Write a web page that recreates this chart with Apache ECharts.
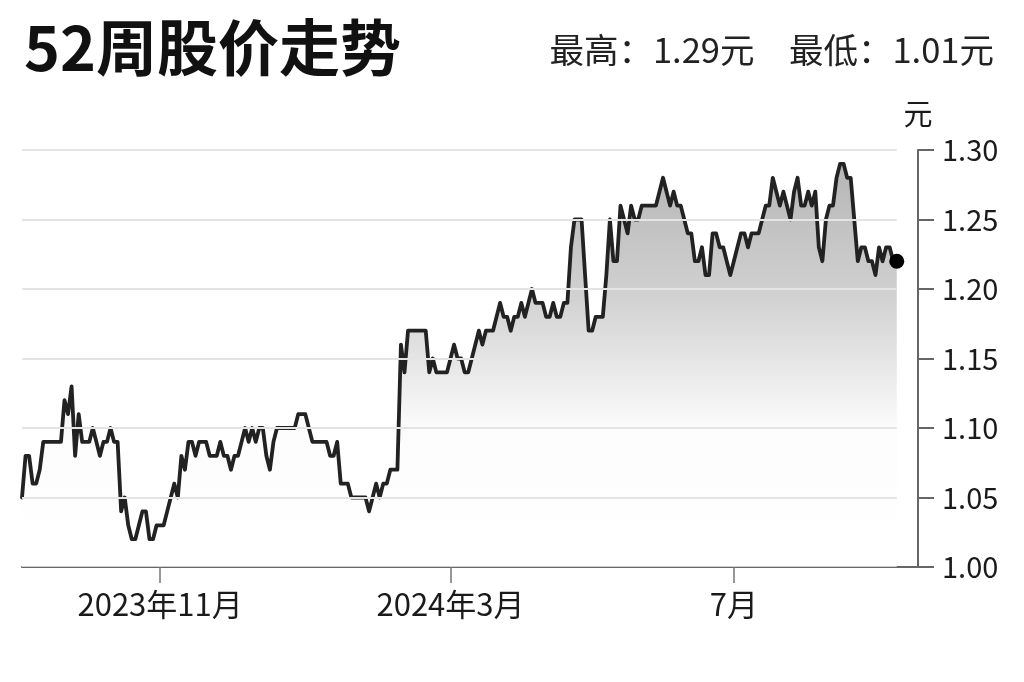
<!DOCTYPE html>
<html>
<head>
<meta charset="utf-8">
<title>52周股价走势</title>
<script src="https://cdn.jsdelivr.net/npm/echarts@6/dist/echarts.min.js"></script>
<style>
  html, body { margin: 0; padding: 0; background: #fff; }
  #main { width: 1024px; height: 682px; }
</style>
</head>
<body>
<div id="main"></div>
<script>
// trading days (HK), one price per day
var startDate = '2023-09-04';
var endDate = '2024-09-12';
var holidays = ['2023-09-08', '2023-10-02', '2023-10-23', '2023-12-25', '2023-12-26',
  '2024-01-01', '2024-02-12', '2024-02-13', '2024-03-29', '2024-04-01', '2024-04-04',
  '2024-05-01', '2024-05-15', '2024-06-10', '2024-07-01'];

var prices = [
  1.05, 1.08, 1.08, 1.06, 1.06, 1.07, 1.09, 1.09, 1.09, 1.09,
  1.09, 1.09, 1.12, 1.11, 1.13, 1.08, 1.11, 1.09, 1.09, 1.09,
  1.10, 1.09, 1.08, 1.09, 1.09, 1.10, 1.09, 1.09, 1.04, 1.05,
  1.03, 1.02, 1.02, 1.03, 1.04, 1.04, 1.02, 1.02, 1.03, 1.03,
  1.03, 1.04, 1.05, 1.06, 1.05, 1.08, 1.07, 1.09, 1.09, 1.08,
  1.09, 1.09, 1.09, 1.08, 1.08, 1.08, 1.09, 1.08, 1.08, 1.07,
  1.08, 1.08, 1.09, 1.10, 1.09, 1.10, 1.09, 1.10, 1.10, 1.08,
  1.07, 1.09, 1.10, 1.10, 1.10, 1.10, 1.10, 1.10, 1.11, 1.11,
  1.11, 1.10, 1.09, 1.09, 1.09, 1.09, 1.09, 1.08, 1.08, 1.09,
  1.06, 1.06, 1.06, 1.05, 1.05, 1.05, 1.05, 1.05, 1.04, 1.05,
  1.06, 1.05, 1.06, 1.06, 1.07, 1.07, 1.07, 1.16, 1.14, 1.17,
  1.17, 1.17, 1.17, 1.17, 1.17, 1.14, 1.15, 1.14, 1.14, 1.14,
  1.14, 1.15, 1.16, 1.15, 1.15, 1.14, 1.14, 1.15, 1.16, 1.17,
  1.16, 1.17, 1.17, 1.17, 1.18, 1.19, 1.18, 1.18, 1.17, 1.18,
  1.18, 1.19, 1.18, 1.19, 1.20, 1.19, 1.19, 1.19, 1.18, 1.18,
  1.19, 1.18, 1.18, 1.19, 1.19, 1.23, 1.25, 1.25, 1.25, 1.21,
  1.17, 1.17, 1.18, 1.18, 1.18, 1.21, 1.25, 1.22, 1.22, 1.26,
  1.25, 1.24, 1.26, 1.25, 1.25, 1.26, 1.26, 1.26, 1.26, 1.26,
  1.27, 1.28, 1.27, 1.26, 1.27, 1.26, 1.26, 1.25, 1.24, 1.24,
  1.22, 1.22, 1.23, 1.21, 1.21, 1.24, 1.24, 1.23, 1.23, 1.22,
  1.21, 1.22, 1.23, 1.24, 1.24, 1.23, 1.24, 1.24, 1.24, 1.25,
  1.26, 1.26, 1.28, 1.27, 1.26, 1.27, 1.26, 1.25, 1.27, 1.28,
  1.26, 1.26, 1.27, 1.26, 1.27, 1.23, 1.22, 1.25, 1.26, 1.26,
  1.28, 1.29, 1.29, 1.28, 1.28, 1.25, 1.22, 1.23, 1.23, 1.22,
  1.22, 1.21, 1.23, 1.22, 1.23, 1.23, 1.22, 1.22
];

var tickDates = ['2023-11-01', '2024-03-01', '2024-07-02'];
var tickLabels = ['2023年11月', '2024年3月', '7月'];
var gridValues = [1.05, 1.10, 1.15, 1.20, 1.25, 1.30];
var highPrice = '1.29';
var lowPrice = '1.01';

var days = [];
var d = new Date(startDate + 'T00:00:00Z');
var end = new Date(endDate + 'T00:00:00Z');
while (d <= end) {
  var s = d.toISOString().slice(0, 10);
  var wd = d.getUTCDay();
  if (wd !== 0 && wd !== 6 && holidays.indexOf(s) < 0) days.push(s);
  d.setUTCDate(d.getUTCDate() + 1);
}

var lastIdx = prices.length - 1;
var font = '"Noto Sans CJK SC", "Noto Sans", sans-serif';
var isTick = function (index, value) { return tickDates.indexOf(value) >= 0; };

var myChart = echarts.init(document.getElementById('main'));
myChart.setOption({
  animation: false,
  textStyle: { fontFamily: font },
  title: [{
    text: '52周股价走势',
    left: 19, top: 12,
    textStyle: { fontFamily: font, fontSize: 61, fontWeight: 'bold', color: '#111' }
  }, {
    text: '最高：' + highPrice + '元　最低：' + lowPrice + '元',
    right: 25, top: 28,
    textStyle: { fontFamily: font, fontSize: 34.5, fontWeight: 'normal', color: '#222' }
  }],
  grid: { left: 22, right: 106, top: 150, bottom: 115, outerBoundsMode: 'none' },
  xAxis: {
    type: 'category',
    data: days,
    boundaryGap: false,
    axisLine: { lineStyle: { color: '#666', width: 2 } },
    axisTick: { interval: isTick, length: 16, lineStyle: { color: '#777', width: 1.5 } },
    axisLabel: {
      interval: isTick,
      margin: 22,
      fontSize: 31,
      color: '#1a1a1a',
      formatter: function (v) { return tickLabels[tickDates.indexOf(v)]; }
    },
    splitLine: { show: false }
  },
  yAxis: {
    type: 'value',
    position: 'right',
    min: 1.0, max: 1.3, interval: 0.05,
    name: '元',
    nameLocation: 'end',
    nameGap: 22,
    nameTextStyle: { fontSize: 29, color: '#1a1a1a', align: 'center' },
    axisLine: { show: true, lineStyle: { color: '#666', width: 2 } },
    axisTick: { show: true, length: 16, lineStyle: { color: '#666', width: 2 } },
    axisLabel: {
      margin: 24, fontSize: 29, color: '#1a1a1a',
      formatter: function (v) { return v.toFixed(2); }
    },
    splitLine: { show: false }
  },
  series: [{
    // gradient fill, grid lines on top of it
    type: 'line',
    data: prices,
    z: 2,
    showSymbol: false,
    lineStyle: { width: 0, opacity: 0 },
    areaStyle: {
      color: new echarts.graphic.LinearGradient(0, 0, 0, 1, [
        { offset: 0, color: '#969696' },
        { offset: 0.31, color: '#bababa' },
        { offset: 0.48, color: '#d8d8d8' },
        { offset: 0.66, color: '#fafafa' },
        { offset: 1, color: '#ffffff' }
      ])
    },
    markLine: {
      silent: true,
      symbol: 'none',
      label: { show: false },
      lineStyle: { color: '#e4e4e4', width: 2, type: 'solid' },
      data: gridValues.map(function (v) {
        return [{ coord: [days[0], v] }, { coord: [days[lastIdx], v] }];
      })
    }
  }, {
    type: 'line',
    data: prices,
    z: 4,
    showSymbol: false,
    lineStyle: { color: '#222', width: 3.8, cap: 'round', join: 'round' }
  }, {
    type: 'scatter',
    z: 5,
    data: [[days[lastIdx], prices[lastIdx]]],
    symbolSize: 15,
    itemStyle: { color: '#000', opacity: 1 }
  }]
});
</script>
</body>
</html>
